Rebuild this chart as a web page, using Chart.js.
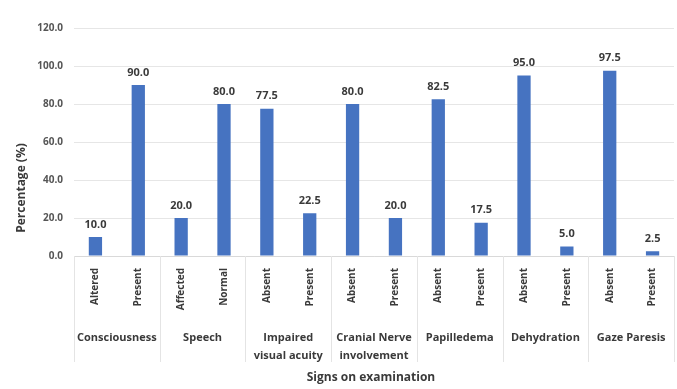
<!DOCTYPE html>
<html>
<head>
<meta charset="utf-8">
<script src="https://cdn.jsdelivr.net/npm/chart.js@4.4.1/dist/chart.umd.min.js"></script>
<style>
  html, body { margin: 0; padding: 0; background: #fff; }
  #wrap { width: 677px; height: 389px; position: relative; }
</style>
</head>
<body>
<div id="wrap"><canvas id="myChart"></canvas></div>
<script>
// signs on examination, two answers per sign
var groups = [ ["Consciousness"], ["Speech"], ["Impaired", "visual acuity"], ["Cranial Nerve", "involvement"], ["Papilledema"], ["Dehydration"], ["Gaze Paresis"] ];
var labels = [ "Altered", "Present", "Affected", "Normal", "Absent", "Present", "Absent", "Present", "Absent", "Present", "Absent", "Present", "Absent", "Present" ];
var values = [ 10.0, 90.0, 20.0, 80.0, 77.5, 22.5, 80.0, 20.0, 82.5, 17.5, 95.0, 5.0, 97.5, 2.5 ];
var yTicks = [ 0, 20, 40, 60, 80, 100, 120 ];

var fontFam = "'Open Sans', 'Liberation Sans', sans-serif";
var textColor = "#3a3a3a";

// value labels over the bars, group names + separators under the axis, axis titles
var extras = {
	id : "extras",
	afterDatasetsDraw : function(chart) {
		var ctx = chart.ctx;
		var area = chart.chartArea;
		var x = chart.scales.x;
		var meta = chart.getDatasetMeta(0);

		ctx.save();
		ctx.fillStyle = textColor;
		ctx.font = "bold 11px " + fontFam;
		ctx.textAlign = "center";
		ctx.textBaseline = "bottom";
		meta.data.forEach(function(bar, i) {
			ctx.fillText(values[i].toFixed(1), bar.x, bar.y - 7);
		});

		var step = x.getPixelForValue(1) - x.getPixelForValue(0);
		ctx.strokeStyle = "#e4e4e4";
		ctx.lineWidth = 1;
		for (var k = 0; k <= groups.length; k++) {
			var px = Math.round(x.getPixelForValue(2 * k) - step / 2) + 0.5;
			ctx.beginPath();
			ctx.moveTo(px, area.bottom);
			ctx.lineTo(px, area.bottom + 106);
			ctx.stroke();
		}

		ctx.font = "bold 11px " + fontFam;
		ctx.textBaseline = "middle";
		groups.forEach(function(g, k) {
			var cx = (x.getPixelForValue(2 * k) + x.getPixelForValue(2 * k + 1)) / 2;
			g.forEach(function(line, j) {
				ctx.fillText(line, cx, area.bottom + 82 + j * 18);
			});
		});

		ctx.font = "bold 12px " + fontFam;
		ctx.fillText("Signs on examination", (area.left + area.right) / 2 - 3, area.bottom + 122);

		ctx.translate(22, 188);
		ctx.rotate(-Math.PI / 2);
		ctx.fillText("Percentage (%)", 0, 0);
		ctx.restore();
	}
};

var ctx = document.getElementById("myChart").getContext("2d");
var myChart = new Chart(ctx, {
	type : "bar",
	data : {
		labels : labels,
		datasets : [{
			data : values,
			backgroundColor : "#4673c1",
			categoryPercentage : 1.0,
			barPercentage : 0.31
		}]
	},
	options : {
		responsive : true,
		maintainAspectRatio : false,
		animation : false,
		layout : { padding : { top : 28, right : 3, left : 0, bottom : 0 } },
		plugins : {
			legend : { display : false },
			tooltip : { enabled : false }
		},
		scales : {
			x : {
				grid : { display : false },
				border : { display : true, color : "#d9d9d9" },
				ticks : {
					minRotation : 90,
					maxRotation : 90,
					padding : 4,
					color : textColor,
					font : { family : fontFam, size : 10, weight : "bold" }
				},
				afterFit : function(scale) { scale.height = 133; }
			},
			y : {
				min : 0,
				max : 120,
				afterBuildTicks : function(scale) {
					scale.ticks = yTicks.map(function(v) { return { value : v }; });
				},
				grid : { color : "#e6e6e6", drawTicks : false },
				border : { display : false },
				ticks : {
					padding : 11,
					color : "#555555",
					font : { family : fontFam, size : 10, weight : "bold" },
					callback : function(v) { return Number(v).toFixed(1); }
				},
				afterFit : function(scale) { scale.width = 74; }
			}
		}
	},
	plugins : [ extras ]
});
</script>
</body>
</html>
